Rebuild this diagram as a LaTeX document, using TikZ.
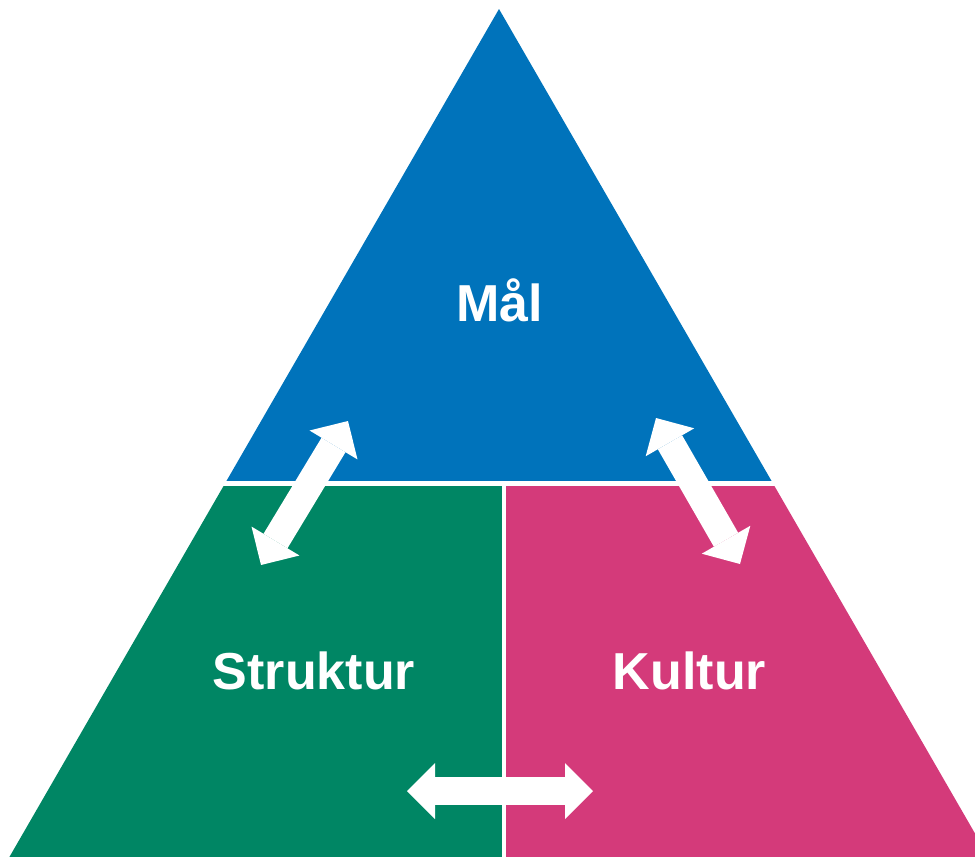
\documentclass[tikz,border=0pt]{standalone}
\usepackage{fontspec}
\setmainfont{Liberation Sans}
\usetikzlibrary{arrows.meta}
\definecolor{malblue}{RGB}{0,115,187}
\definecolor{strgreen}{RGB}{0,134,100}
\definecolor{kulpink}{RGB}{212,58,122}
\begin{document}
\begin{tikzpicture}[x=1pt,y=-1pt,
  biarrow/.style={draw=white, line width=28pt,
    {Triangle[width=56pt,length=28pt,line width=0pt]}-{Triangle[width=56pt,length=28pt,line width=0pt]}},
  lbl/.style={text=white, font=\bfseries\fontsize{52}{62}\selectfont, anchor=base, inner sep=0pt},
  divider/.style={draw=white, line width=5pt}]
\useasboundingbox (0,0) rectangle (975,857);
\clip (0,0) rectangle (975,857);
\coordinate (apex) at (499,9);
\coordinate (bl) at (9.4,857);
\coordinate (br) at (988.6,857);
\coordinate (ml) at (225,483.5);
\coordinate (mr) at (773,483.5);
\coordinate (mc) at (504,483.5);
\coordinate (bc) at (504,857);
\fill[malblue] (apex) -- (mr) -- (ml) -- cycle;
\fill[strgreen] (ml) -- (mc) -- (bc) -- (bl) -- cycle;
\fill[kulpink] (mc) -- (mr) -- (br) -- (bc) -- cycle;
\coordinate (dl) at (200,483.5);
\coordinate (dr) at (800,483.5);
\draw[divider] (dl) -- (dr);
\draw[divider, line width=4pt] (mc) -- (bc);
\node[lbl] (mal) at (500,321) {Mål};
\node[lbl] (struktur) at (314,689) {Struktur};
\node[lbl] (kultur) at (689.5,689) {Kultur};
\coordinate (a1) at (348,421);
\coordinate (a2) at (261,565);
\coordinate (b1) at (656,418);
\coordinate (b2) at (740,564);
\coordinate (c1) at (407,791);
\coordinate (c2) at (593,791);
\draw[biarrow] (a1) -- (a2);
\draw[biarrow] (b1) -- (b2);
\draw[biarrow] (c1) -- (c2);
\end{tikzpicture}
\end{document}
